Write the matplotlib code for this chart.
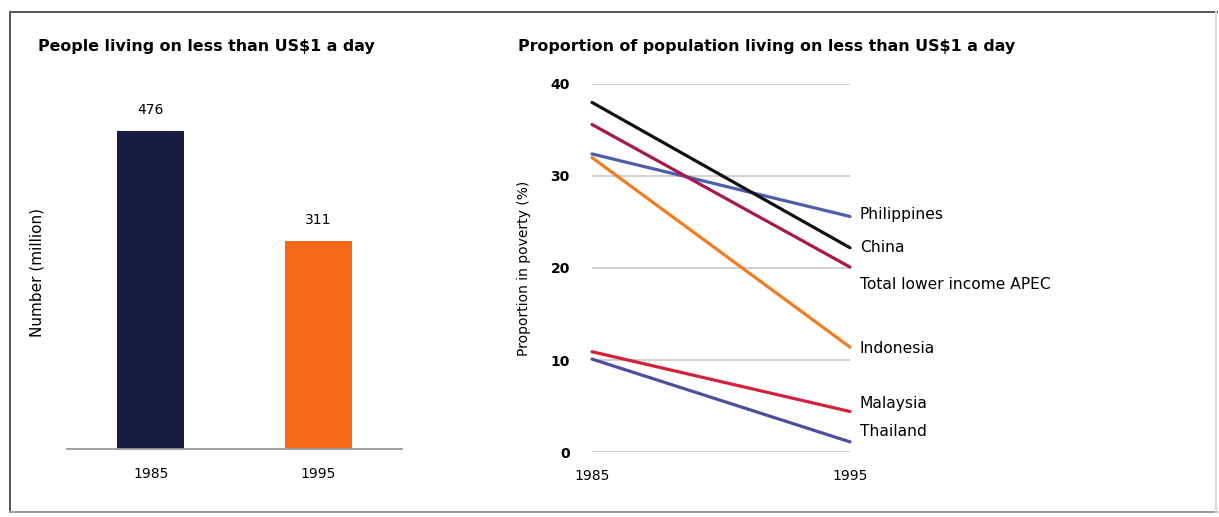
import matplotlib
matplotlib.use("Agg")
import matplotlib.pyplot as plt
from matplotlib.lines import Line2D

plt.rcParams["font.family"] = ["DejaVu Sans"]

# left panel: people living on < US$1 a day (million)
bar_years = ["1985", "1995"]
bar_values = [476, 311]
bar_colors = ["#161d40", "#f36a1c"]

# right panel: proportion of population in poverty (%)
years = [1985, 1995]
series_names = ["Philippines", "China", "Total lower income APEC",
                "Indonesia", "Malaysia", "Thailand"]
philippines = [32.4, 25.6]
china = [38.0, 22.2]
apec_total = [35.6, 20.1]
indonesia = [32.0, 11.4]
malaysia = [10.9, 4.4]
thailand = [10.1, 1.1]
series_values = [philippines, china, apec_total, indonesia, malaysia, thailand]
series_colors = ["#4c5fab", "#111111", "#a8184f", "#f47b20", "#d4203a", "#4a4f9e"]

W, H = 1219, 517
fig = plt.figure(figsize=(W / 100, H / 100), dpi=100)

def fx(px):
    return px / W

def fy(py):
    return 1 - py / H

# outer frame (right edge is faint in the scan)
frame = [((10, 10), (12, 512), "#555555"), ((10, 1217), (12, 12), "#555555"),
         ((10, 1217), (512, 512), "#9a9a9a"), ((1216, 1216), (12, 512), "#d8d8d8")]
for (xa, xb), (ya, yb), c in frame:
    fig.lines.append(Line2D([fx(xa), fx(xb)], [fy(ya), fy(yb)],
                            transform=fig.transFigure, color=c, lw=1.4))

# ---- bar chart
ax1 = fig.add_axes([fx(67), fy(449), fx(402) - fx(67), fy(88) - fy(449)])
x = range(len(bar_years))
bars = ax1.bar(x, bar_values, width=0.4, color=bar_colors)
for b, v in zip(bars, bar_values):
    ax1.annotate(str(v), (b.get_x() + b.get_width() / 2, v), xytext=(0, 15),
                 textcoords="offset points", ha="center", va="center", fontsize=10)
ax1.set_xlim(-0.5, 1.5)
ax1.set_ylim(0, 540)
ax1.set_xticks(list(x))
ax1.set_xticklabels(bar_years, fontsize=10)
ax1.set_yticks([])
ax1.tick_params(axis="x", length=0, pad=13)
for s in ["top", "right", "left"]:
    ax1.spines[s].set_visible(False)
ax1.spines["bottom"].set_color("#9a9a9a")
ax1.spines["bottom"].set_linewidth(1.3)
ax1.set_ylabel("Number (million)", fontsize=11)
ax1.yaxis.set_label_coords(-0.066, 0.49)

fig.text(fx(38), fy(46), "People living on less than US$1 a day",
         fontsize=11.4, fontweight="bold", va="center", ha="left")

# ---- line chart
ax2 = fig.add_axes([fx(592), fy(452), fx(850) - fx(592), fy(84) - fy(452)])
label_dy = [2, 0, -17, -1, 8, 10]  # px nudges for end labels
for name, vals, col, dy in zip(series_names, series_values, series_colors, label_dy):
    ax2.plot(years, vals, color=col, lw=2.3, clip_on=False, zorder=3,
             solid_capstyle="round")
    ax2.annotate(name, (years[-1], vals[-1]), xytext=(7, dy * 0.72),
                 textcoords="offset points", ha="left", va="center", fontsize=11.2)
ax2.set_xlim(1985, 1995)
ax2.set_ylim(0, 40)
ax2.set_yticks([0, 10, 20, 30, 40])
ax2.set_xticks(years)
ax2.tick_params(axis="y", length=0, pad=16, labelsize=10)
ax2.tick_params(axis="x", length=0, pad=12, labelsize=10)
for lab in ax2.get_yticklabels():
    lab.set_fontweight("bold")
ax2.grid(axis="y", color="#cccccc", lw=1.3)
ax2.set_axisbelow(True)
for s in ["top", "right", "left", "bottom"]:
    ax2.spines[s].set_visible(False)
ax2.set_ylabel("Proportion in poverty (%)", fontsize=10)
ax2.yaxis.set_label_coords(-0.237, 0.5)

fig.text(fx(518), fy(46), "Proportion of population living on less than US$1 a day",
         fontsize=11.4, fontweight="bold", va="center", ha="left")

fig.savefig("out.png", dpi=100)
